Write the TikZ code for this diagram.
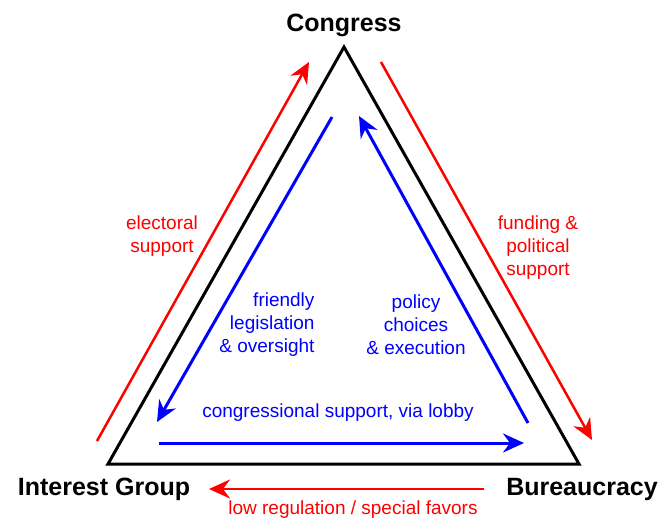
\documentclass[tikz,border=0pt]{standalone}
\usepackage{fontspec}
\setmainfont{Liberation Sans}
\usetikzlibrary{arrows.meta}

\begin{document}
\begin{tikzpicture}[x=1pt,y=-1pt,
        actor/.style={font=\fontsize{25}{30}\selectfont\bfseries, anchor=base},
        flow/.style={font=\fontsize{19}{23}\selectfont, align=center},
        redarrow/.style={draw=red, line width=2.5pt, -{Stealth[length=21pt,width=19pt,inset=7pt]}},
        bluearrow/.style={draw=blue, line width=3pt, -{Stealth[length=21pt,width=19pt,inset=7pt]}}]
    \useasboundingbox (0,0) rectangle (672,522);
    % corners of the triangle
    \coordinate (cg) at (344,47);
    \coordinate (ig) at (108,464);
    \coordinate (bu) at (579,464);
    \draw[line width=3pt, line join=miter] (cg) -- (ig) -- (bu) -- cycle;

    \node[actor] (congress) at (344,31) {Congress};
    \node[actor] (interest) at (104,495) {Interest Group};
    \node[actor] (bureau) at (582,495) {Bureaucracy};

    % red arrows, outside
    \coordinate (el-a) at (97,441);
    \coordinate (el-b) at (309,62);
    \coordinate (fu-a) at (381,62);
    \coordinate (fu-b) at (592,440);
    \coordinate (lo-a) at (484,489);
    \coordinate (lo-b) at (209,489);
    \draw[redarrow] (el-a) -- (el-b);
    \draw[redarrow] (fu-a) -- (fu-b);
    \draw[redarrow] (lo-a) -- (lo-b);

    % blue arrows, inside
    \coordinate (fr-a) at (332,117);
    \coordinate (fr-b) at (157,422);
    \coordinate (po-a) at (528,423);
    \coordinate (po-b) at (359,116);
    \coordinate (cs-a) at (159,443);
    \coordinate (cs-b) at (524,443);
    \draw[bluearrow] (fr-a) -- (fr-b);
    \draw[bluearrow] (po-a) -- (po-b);
    \draw[bluearrow] (cs-a) -- (cs-b);

    \node[flow, red] (electoral) at (162,236) {electoral\\support};
    \node[flow, red] (funding) at (538,248) {funding \&\\political\\support};
    \node[flow, blue, align=right, anchor=east] (friendly) at (318,325) {friendly\\legislation\\\& oversight};
    \node[flow, blue] (policy) at (416,325) {policy\\choices\\\& execution};
    \node[flow, blue] (lobby) at (338,413) {congressional support, via lobby};
    \node[flow, red] (favors) at (353,510) {low regulation / special favors};
\end{tikzpicture}
\end{document}
